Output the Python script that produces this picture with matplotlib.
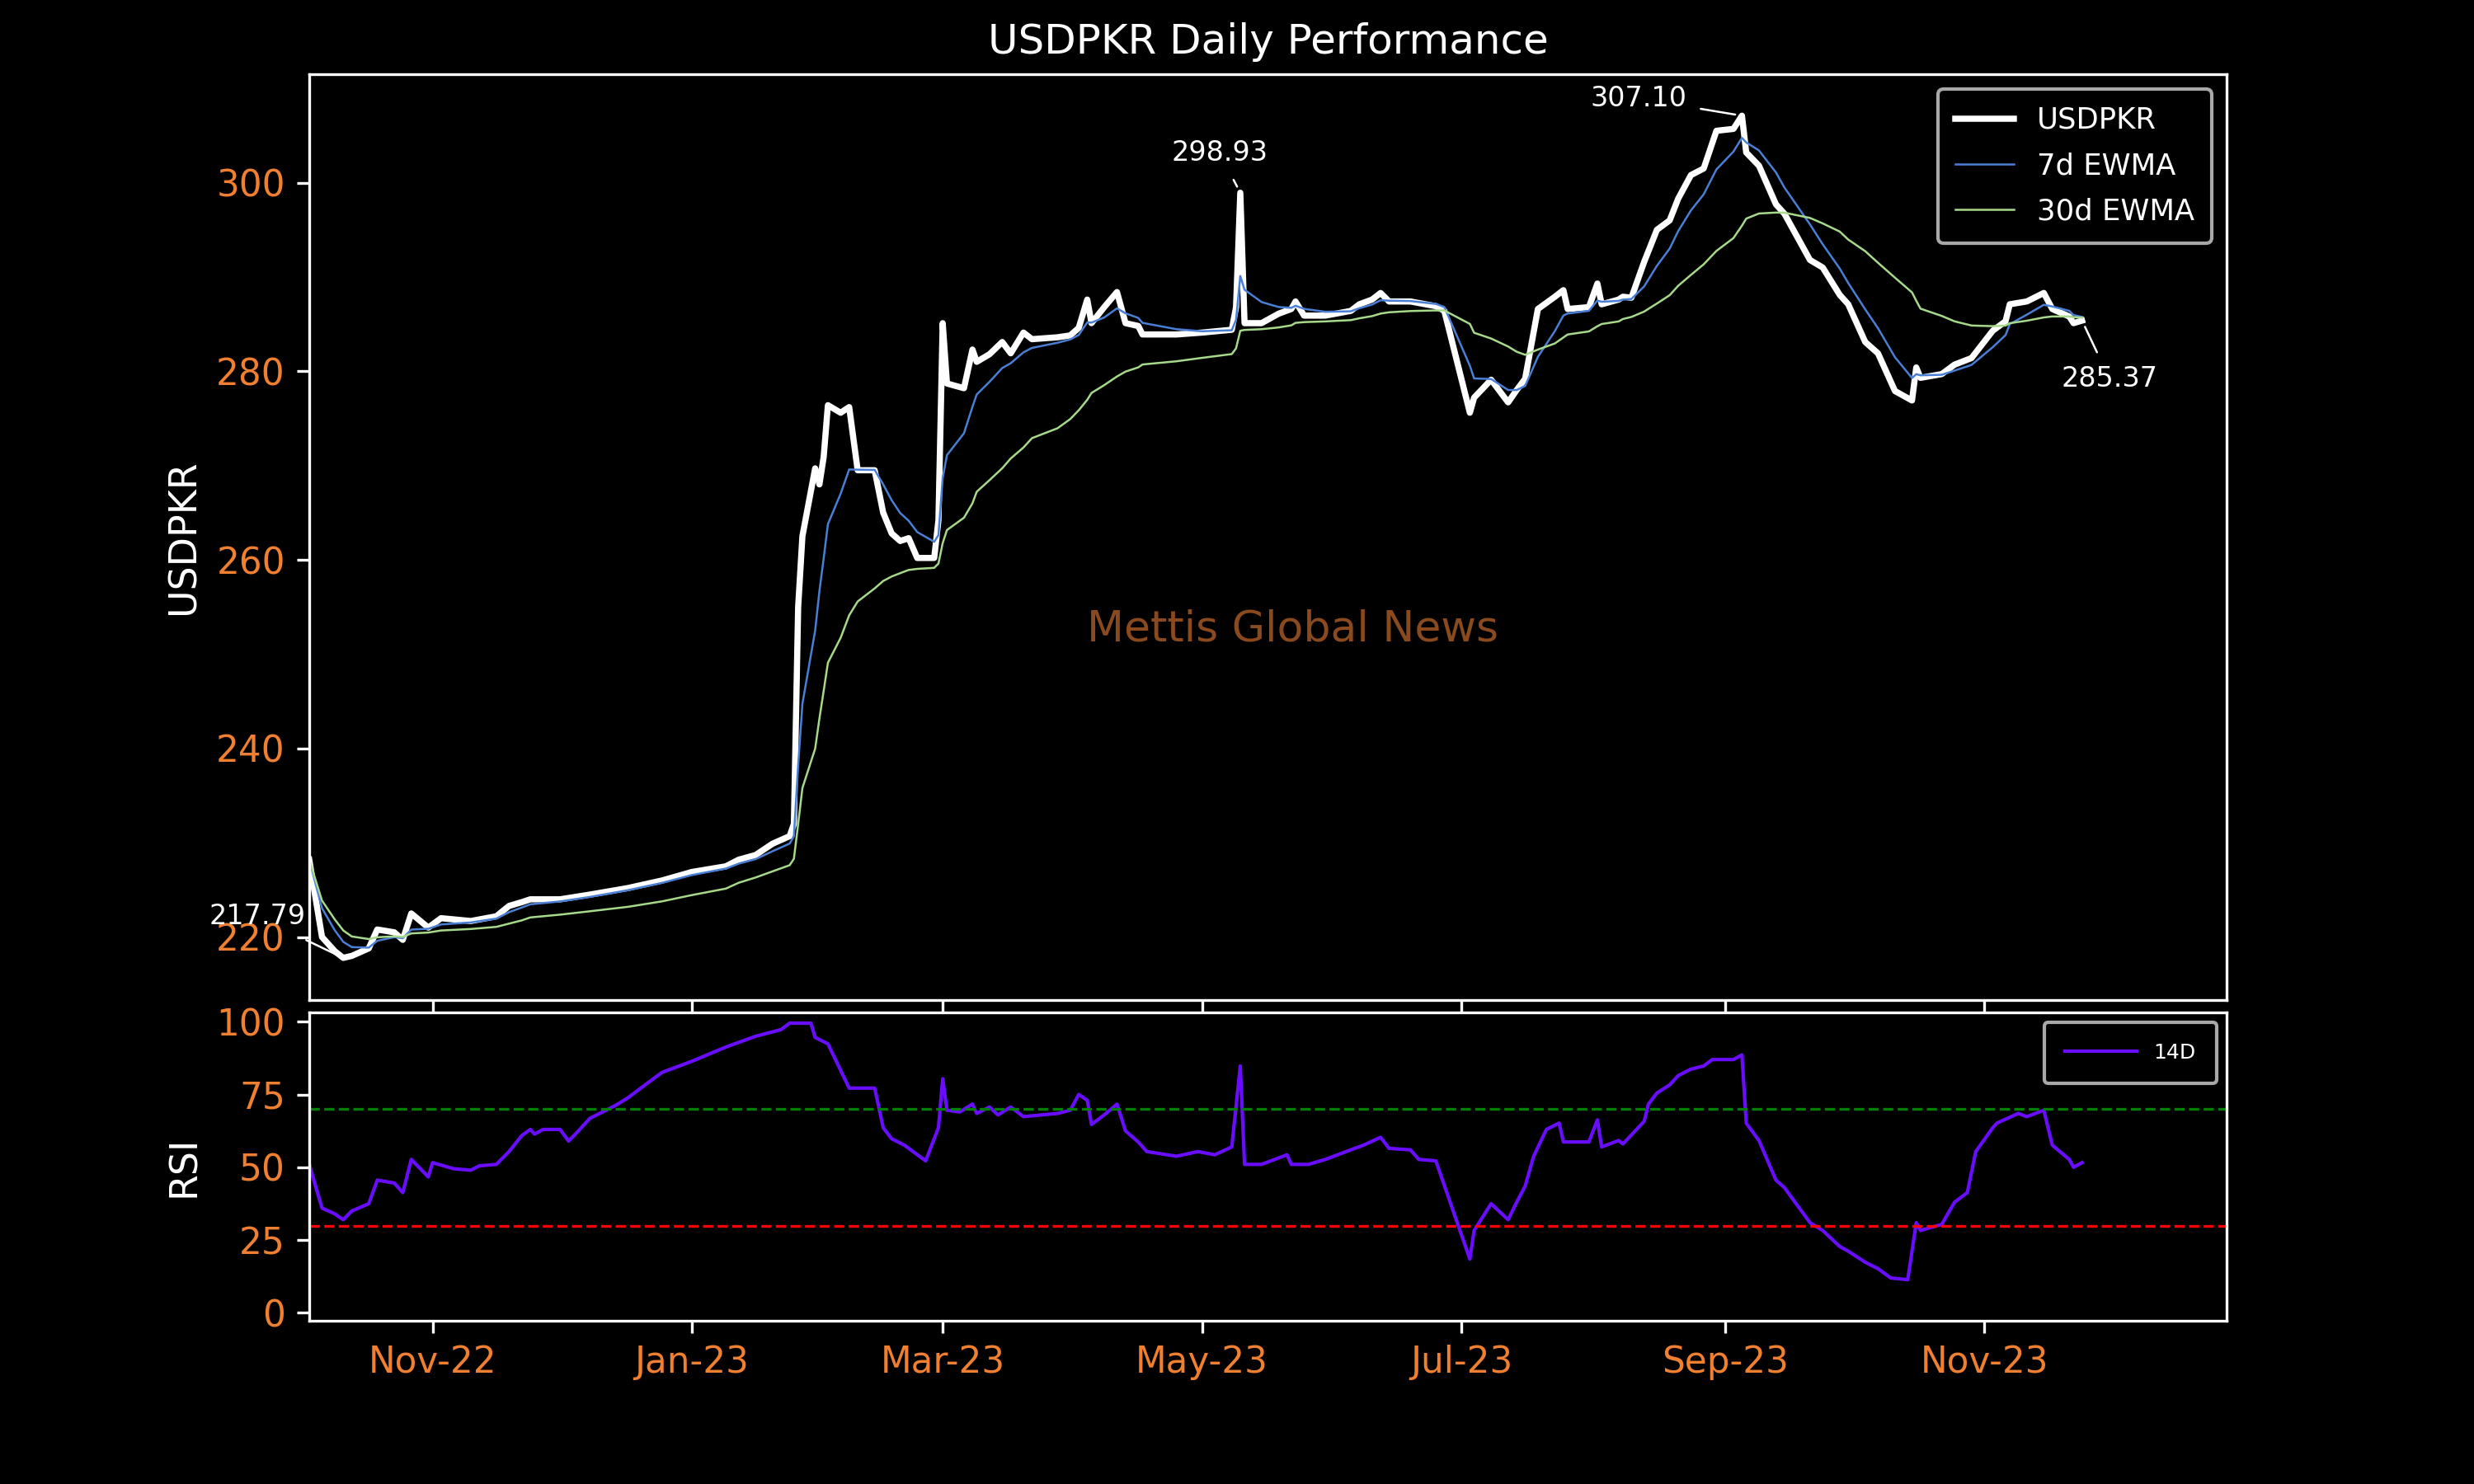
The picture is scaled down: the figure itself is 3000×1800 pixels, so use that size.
import matplotlib
matplotlib.use("Agg")
import matplotlib.pyplot as plt
import matplotlib.dates as mdates
import pandas as pd

price_dates = ["2022-10-03","2022-10-06","2022-10-09","2022-10-11","2022-10-13","2022-10-17","2022-10-19","2022-10-23","2022-10-25","2022-10-27","2022-10-31","2022-11-03","2022-11-10","2022-11-16","2022-11-19","2022-11-22","2022-11-24","2022-12-01","2022-12-08","2022-12-17","2022-12-25","2023-01-01","2023-01-09","2023-01-12","2023-01-16","2023-01-20","2023-01-24","2023-01-25","2023-01-26","2023-01-27","2023-01-30","2023-01-31","2023-02-01","2023-02-02","2023-02-05","2023-02-07","2023-02-09","2023-02-13","2023-02-15","2023-02-17","2023-02-19","2023-02-21","2023-02-23","2023-02-27","2023-02-28","2023-03-01","2023-03-02","2023-03-06","2023-03-08","2023-03-09","2023-03-12","2023-03-15","2023-03-17","2023-03-20","2023-03-22","2023-03-28","2023-03-31","2023-04-02","2023-04-04","2023-04-05","2023-04-08","2023-04-11","2023-04-13","2023-04-16","2023-04-17","2023-04-25","2023-05-01","2023-05-08","2023-05-09","2023-05-10","2023-05-11","2023-05-15","2023-05-19","2023-05-22","2023-05-23","2023-05-25","2023-05-30","2023-06-05","2023-06-07","2023-06-10","2023-06-12","2023-06-14","2023-06-19","2023-06-25","2023-06-27","2023-07-03","2023-07-04","2023-07-08","2023-07-12","2023-07-14","2023-07-16","2023-07-19","2023-07-23","2023-07-25","2023-07-26","2023-07-31","2023-08-02","2023-08-03","2023-08-07","2023-08-08","2023-08-10","2023-08-13","2023-08-16","2023-08-19","2023-08-21","2023-08-24","2023-08-27","2023-08-30","2023-09-03","2023-09-05","2023-09-06","2023-09-09","2023-09-13","2023-09-15","2023-09-21","2023-09-24","2023-09-28","2023-09-30","2023-10-04","2023-10-07","2023-10-11","2023-10-15","2023-10-16","2023-10-17","2023-10-22","2023-10-25","2023-10-29","2023-11-03","2023-11-06","2023-11-07","2023-11-11","2023-11-15","2023-11-17","2023-11-21","2023-11-22","2023-11-24"]
price_values = [228.2,220.0,218.5,217.79,218.0,218.8,220.8,220.5,219.7,222.5,221.0,222.0,221.7,222.2,223.3,223.7,224.0,224.0,224.5,225.2,226.0,226.9,227.5,228.2,228.7,229.9,230.7,232.0,255.0,262.5,269.7,268.0,270.9,276.4,275.6,276.2,269.5,269.5,265.0,262.8,262.0,262.3,260.2,260.2,264.2,285.1,278.7,278.2,282.3,281.0,281.8,283.1,281.9,284.1,283.4,283.6,283.8,284.6,287.6,285.1,286.8,288.4,285.1,284.8,283.9,283.9,284.1,284.4,286.8,298.93,285.1,285.1,286.1,286.6,287.4,285.9,285.9,286.4,287.1,287.6,288.3,287.4,287.4,286.9,286.4,275.6,277.2,279.1,276.7,278.0,279.2,286.6,287.9,288.6,286.6,286.8,289.3,287.1,287.6,287.9,287.8,291.6,295.0,296.0,298.3,300.8,301.5,305.5,305.7,307.1,303.2,301.8,297.7,296.7,291.8,291.0,288.1,287.1,283.1,281.9,277.9,276.9,280.4,279.3,279.7,280.7,281.4,284.3,285.3,287.1,287.4,288.3,286.6,285.8,285.1,285.37]

rsi_dates = ["2022-10-03","2022-10-06","2022-10-09","2022-10-11","2022-10-13","2022-10-17","2022-10-19","2022-10-23","2022-10-25","2022-10-27","2022-10-31","2022-11-01","2022-11-06","2022-11-10","2022-11-12","2022-11-16","2022-11-19","2022-11-22","2022-11-24","2022-11-25","2022-11-27","2022-12-01","2022-12-03","2022-12-05","2022-12-08","2022-12-14","2022-12-17","2022-12-21","2022-12-25","2023-01-01","2023-01-09","2023-01-16","2023-01-22","2023-01-24","2023-01-29","2023-01-30","2023-02-02","2023-02-07","2023-02-13","2023-02-15","2023-02-17","2023-02-20","2023-02-25","2023-02-28","2023-03-01","2023-03-02","2023-03-05","2023-03-08","2023-03-09","2023-03-12","2023-03-14","2023-03-17","2023-03-20","2023-03-28","2023-03-31","2023-04-02","2023-04-04","2023-04-05","2023-04-08","2023-04-11","2023-04-13","2023-04-16","2023-04-18","2023-04-25","2023-04-30","2023-05-04","2023-05-08","2023-05-10","2023-05-11","2023-05-15","2023-05-21","2023-05-22","2023-05-26","2023-05-30","2023-06-05","2023-06-08","2023-06-12","2023-06-14","2023-06-19","2023-06-21","2023-06-25","2023-07-03","2023-07-04","2023-07-08","2023-07-12","2023-07-14","2023-07-16","2023-07-18","2023-07-21","2023-07-24","2023-07-25","2023-07-31","2023-08-02","2023-08-03","2023-08-07","2023-08-08","2023-08-13","2023-08-14","2023-08-16","2023-08-19","2023-08-21","2023-08-24","2023-08-27","2023-08-29","2023-09-03","2023-09-05","2023-09-06","2023-09-09","2023-09-13","2023-09-15","2023-09-21","2023-09-24","2023-09-28","2023-09-30","2023-10-04","2023-10-07","2023-10-10","2023-10-14","2023-10-16","2023-10-17","2023-10-22","2023-10-25","2023-10-28","2023-10-30","2023-11-03","2023-11-04","2023-11-09","2023-11-11","2023-11-15","2023-11-17","2023-11-21","2023-11-22","2023-11-24"]
rsi_values = [51,36,34,32,35,37.5,45.6,44.6,41.3,52.7,46.7,51.6,49.5,49,50.5,51,55.4,60.9,63,61.4,63,63,59,62,66.8,71.2,73.9,78.3,82.6,86.4,91.3,95,97.3,99.5,99.5,94.6,92.4,77.2,77.2,63.6,59.8,57.6,52.2,63.6,80.4,69.6,69,71.7,68.5,70.7,68,70.7,67.4,68.5,69.6,75,73,64.7,68,71.7,62.5,58.7,55.4,53.8,55.4,54.3,57,84.8,51,51,54.3,51,51,52.7,56,57.6,60.3,56.5,56,52.7,52.2,18.5,28.3,37.5,32,38,43.5,53.8,63,65.2,58.7,58.7,66.3,57,59.2,58,65.8,71.7,75.5,78.3,81.5,83.7,84.8,87,87,88.6,65.2,59.2,45.6,43,31,28.3,22.8,21.2,17.4,15.2,12,11.4,31,28.3,30.4,38,41.3,55.4,63.6,65.2,68.5,67.4,69.6,57.6,52.7,50,51.6]

price = pd.Series(price_values, index=pd.to_datetime(price_dates))
rsi = pd.Series(rsi_values, index=pd.to_datetime(rsi_dates))
ewma7 = price.ewm(halflife="4 days", times=price.index).mean()
ewma30 = price.ewm(halflife="18 days", times=price.index).mean()

orange = "#f08030"
fig = plt.figure(figsize=(10, 6), dpi=300, facecolor="black")
ax = fig.add_axes([0.125, 0.326, 0.775, 0.624], facecolor="black")
ax2 = fig.add_axes([0.125, 0.11, 0.775, 0.208], facecolor="black", sharex=ax)

ax.plot(price.index, price.values, color="white", lw=1.8, label="USDPKR")
ax.plot(ewma7.index, ewma7.values, color="#4a7fd6", lw=0.6, label="7d EWMA")
ax.plot(ewma30.index, ewma30.values, color="#a6d98a", lw=0.6, label="30d EWMA")
ax.set_ylim(213.3, 311.5)
ax.set_yticks([220, 240, 260, 280, 300])
ax.set_ylabel("USDPKR", color="white", fontsize=11)
ax.set_title("USDPKR Daily Performance", color="white", fontsize=12)
ax.legend(loc="upper right", fontsize=8.5, facecolor="black", edgecolor="lightgray", labelcolor="white",
          borderpad=0.6, labelspacing=0.6)
ax.text(0.513, 0.40, "Mettis Global News", transform=ax.transAxes, color="#8b4a1e", fontsize=12.5, ha="center", va="center")

def ann(d, v, txt, dx, dy):
    ax.annotate(txt, xy=(pd.Timestamp(d), v), xytext=(dx, dy), textcoords="offset points",
                color="white", fontsize=8, ha="center", va="center",
                arrowprops=dict(arrowstyle="-", color="white", lw=0.6))
i_min = price.values.argmin(); i_max = price.values.argmax()
ann(price.index[i_min], price.values[i_min], f"{price.values[i_min]:.2f}", -25, 12)
ann(price.index[69], price.values[69], f"{price.values[69]:.2f}", -6, 11.5)
ann(price.index[i_max], price.values[i_max], f"{price.values[i_max]:.2f}", -30, 5)
ann(price.index[-1], price.values[-1], f"{price.values[-1]:.2f}", 8, -17)

ax2.plot(rsi.index, rsi.values, color="#6a0dff", lw=1.0, label="14D")
ax2.axhline(70, color="green", ls="--", lw=0.8)
ax2.axhline(30, color="red", ls="--", lw=0.8)
ax2.set_ylim(-2.7, 103.3)
ax2.set_yticks([0, 25, 50, 75, 100])
ax2.set_ylabel("RSI", color="white", fontsize=11)
ax2.legend(loc="upper right", fontsize=6, facecolor="black", edgecolor="lightgray", labelcolor="white",
           borderpad=1.0, handlelength=3.5)

ax2.set_xlim(pd.Timestamp("2022-10-03"), pd.Timestamp("2023-12-28"))
ax2.xaxis.set_major_locator(mdates.MonthLocator(bymonth=[1, 3, 5, 7, 9, 11]))
ax2.xaxis.set_major_formatter(mdates.DateFormatter("%b-%y"))
plt.setp(ax.get_xticklabels(), visible=False)

for a in (ax, ax2):
    for s in a.spines.values():
        s.set_color("white")
    a.tick_params(colors="white", labelcolor=orange, labelsize=10.5)

fig.savefig("out.png", dpi=300, facecolor="black")
